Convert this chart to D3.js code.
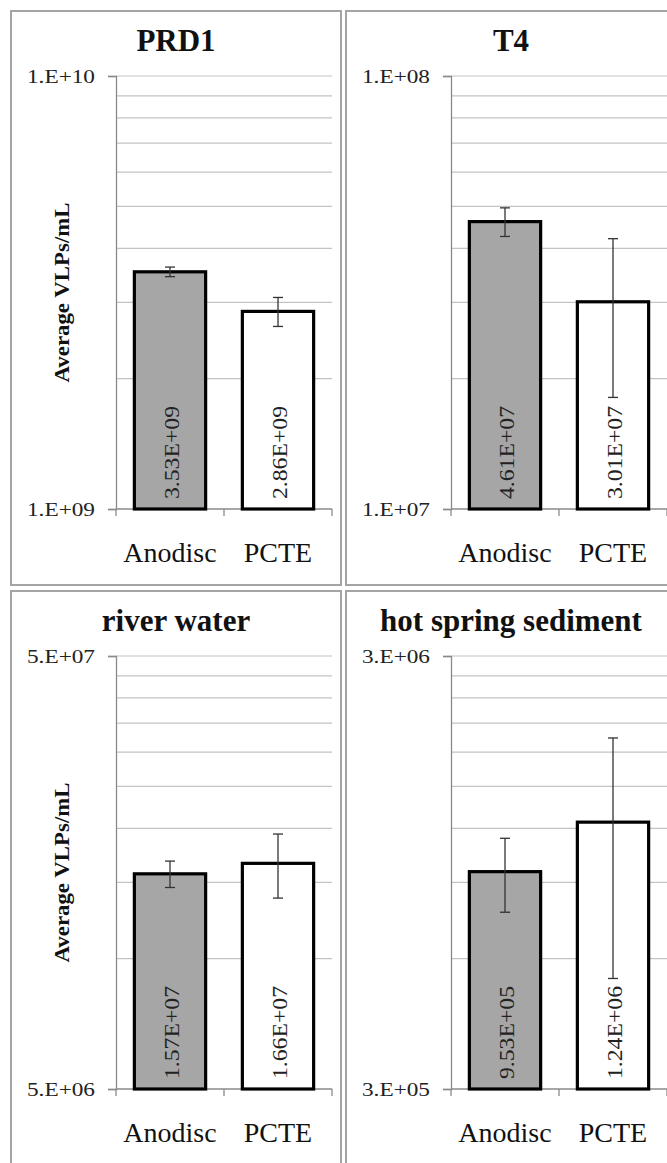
<!DOCTYPE html>
<html lang="en">
<head>
<meta charset="UTF-8">
<title>Average VLPs/mL by filter</title>
<script src="https://d3js.org/d3.v7.min.js"></script>
<style>
  body { margin: 0; background: #fff; }
  svg text { font-family: "Times New Roman", "Liberation Serif", serif; }
  .grid line { stroke: #c3c3c3; stroke-width: 1.2; }
  .axis-line { stroke: #8a8a8a; stroke-width: 1.3; }
  .panel-box { fill: none; stroke: #a4a4a4; stroke-width: 2; }
  .err { stroke: #333; stroke-width: 1.3; }
</style>
</head>
<body>
<svg id="chart" width="667" height="1163"></svg>
<script>
// data
const panelTitles = ['PRD1', 'T4', 'river water', 'hot spring sediment'];
const categories = ['Anodisc', 'PCTE'];
const means = [
  [3.53e9, 2.86e9],
  [4.61e7, 3.01e7],
  [1.57e7, 1.66e7],
  [9.53e5, 1.24e6],
];
const errors = [
  [0.09e9, 0.22e9],
  [0.35e7, 1.2e7],
  [0.11e7, 0.28e7],
  [1.85e5, 7.0e5],
];
const axisMin = [1e9, 1e7, 5e6, 3e5];
const axisMax = [1e10, 1e8, 5e7, 3e6];
const yTitle = 'Average VLPs/mL';
const fills = ['#a6a6a6', '#ffffff'];

const serif = '"Times New Roman", "Liberation Serif", serif';
const panelW = 330, panelH = 574;
const colX = [11, 346];
const rowY = [11, 591];
const margin = { top: 65, right: 9, left: 105 };
const plotW = panelW - margin.left - margin.right;
const plotH = 433;

function fmtExp(v, digits) {
  const [m, e] = v.toExponential(digits).split('e');
  const n = Math.abs(+e);
  return m + (digits === 0 ? '.' : '') + 'E' + (+e < 0 ? '-' : '+') + (n < 10 ? '0' + n : n);
}

const svg = d3.select('#chart');

panelTitles.forEach((title, p) => {
  const col = p % 2, row = Math.floor(p / 2);
  const panel = svg.append('g').attr('transform', `translate(${colX[col]},${rowY[row]})`);

  panel.append('rect').attr('class', 'panel-box')
    .attr('width', panelW).attr('height', panelH);

  panel.append('text')
    .attr('x', panelW / 2).attr('y', 40)
    .attr('text-anchor', 'middle')
    .attr('font-family', serif)
    .attr('font-size', 31).attr('font-weight', 'bold').attr('fill', '#111')
    .text(title);

  const g = panel.append('g').attr('transform', `translate(${margin.left},${margin.top})`);

  const x = d3.scaleBand().domain(categories).range([0, plotW])
    .paddingInner(0.34).paddingOuter(0.17);
  const y = d3.scaleLog().domain([axisMin[p], axisMax[p]]).range([plotH, 0]);

  // minor gridlines at min*k
  const gridVals = d3.range(2, 11).map(k => axisMin[p] * k);
  g.append('g').attr('class', 'grid').selectAll('line')
    .data(gridVals).enter().append('line')
    .attr('x1', 0).attr('x2', plotW)
    .attr('y1', d => y(d)).attr('y2', d => y(d));

  // y axis
  const yAxis = d3.axisLeft(y).tickValues([axisMin[p], axisMax[p]])
    .tickFormat(d => fmtExp(d, 0)).tickSize(8).tickPadding(13);
  const ya = g.append('g').call(yAxis).attr('font-family', serif);
  ya.select('.domain').attr('class', 'axis-line').attr('fill', 'none');
  ya.selectAll('.tick line').attr('class', 'axis-line');
  ya.selectAll('.tick text')
    .attr('font-size', 19).attr('fill', '#222')
    .attr('textLength', 68).attr('lengthAdjust', 'spacingAndGlyphs');

  // x axis line and ticks at band edges
  g.append('line').attr('class', 'axis-line')
    .attr('x1', 0).attr('x2', plotW).attr('y1', plotH).attr('y2', plotH);
  g.selectAll('.xtick').data(d3.range(categories.length + 1)).enter().append('line')
    .attr('class', 'axis-line')
    .attr('x1', i => i * x.step()).attr('x2', i => i * x.step())
    .attr('y1', plotH).attr('y2', plotH + 7);
  g.selectAll('.xlab').data(categories).enter().append('text')
    .attr('x', d => x(d) + x.bandwidth() / 2)
    .attr('y', plotH + 53)
    .attr('text-anchor', 'middle')
    .attr('font-family', serif)
    .attr('font-size', 28).attr('fill', '#111')
    .text(d => d);

  const rows = categories.map((c, i) => ({ cat: c, v: means[p][i], e: errors[p][i], i }));

  // bars
  g.selectAll('.bar').data(rows).enter().append('rect')
    .attr('x', d => x(d.cat))
    .attr('y', d => y(d.v))
    .attr('width', x.bandwidth())
    .attr('height', d => plotH - y(d.v))
    .attr('fill', d => fills[d.i])
    .attr('stroke', '#000').attr('stroke-width', 3.2);

  // value labels inside bars
  g.selectAll('.vlab').data(rows).enter().append('text')
    .attr('transform', d => `translate(${x(d.cat) + x.bandwidth() / 2 + 2},${plotH - 10}) rotate(-90)`)
    .attr('dominant-baseline', 'central')
    .attr('font-family', serif)
    .attr('font-size', 21).attr('fill', '#222')
    .attr('textLength', 93).attr('lengthAdjust', 'spacingAndGlyphs')
    .text(d => fmtExp(d.v, 2));

  // error bars
  const eb = g.selectAll('.eb').data(rows).enter().append('g')
    .attr('transform', d => `translate(${x(d.cat) + x.bandwidth() / 2},0)`);
  eb.append('line').attr('class', 'err')
    .attr('y1', d => y(d.v + d.e)).attr('y2', d => y(d.v - d.e));
  eb.append('line').attr('class', 'err')
    .attr('x1', -5).attr('x2', 5)
    .attr('y1', d => y(d.v + d.e)).attr('y2', d => y(d.v + d.e));
  eb.append('line').attr('class', 'err')
    .attr('x1', -5).attr('x2', 5)
    .attr('y1', d => y(d.v - d.e)).attr('y2', d => y(d.v - d.e));

  if (col === 0) {
    panel.append('text')
      .attr('transform', `translate(${51},${margin.top + plotH / 2}) rotate(-90)`)
      .attr('text-anchor', 'middle')
      .attr('dominant-baseline', 'central')
      .attr('font-family', serif)
      .attr('font-size', 20).attr('font-weight', 'bold').attr('fill', '#111')
      .attr('textLength', 180).attr('lengthAdjust', 'spacingAndGlyphs')
      .text(yTitle);
  }
});
</script>
</body>
</html>
